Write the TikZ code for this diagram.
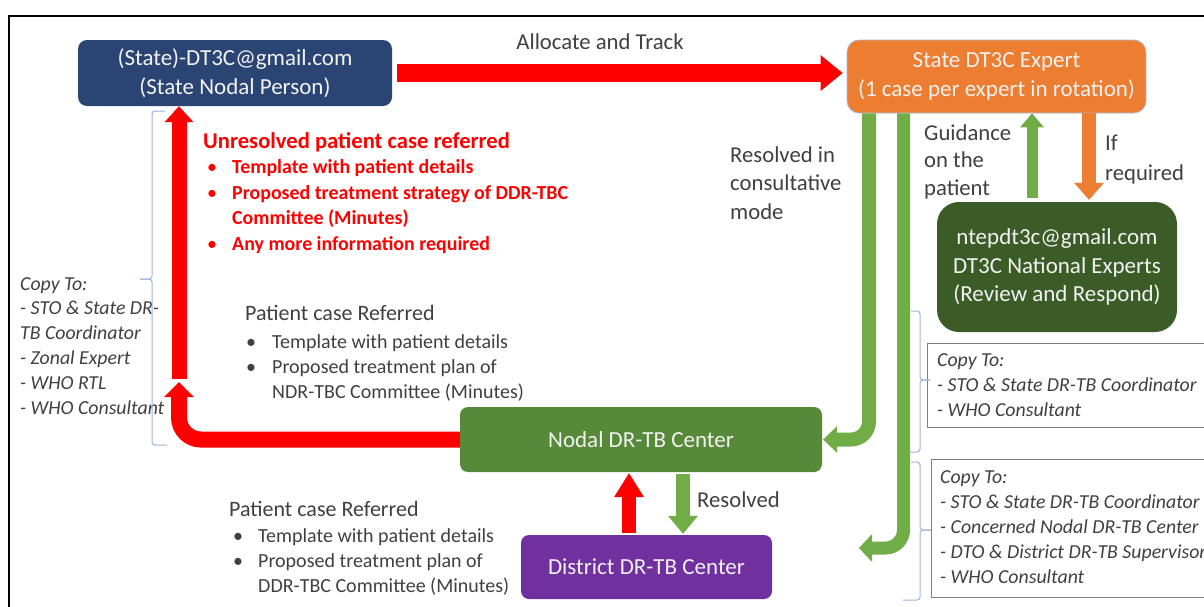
\documentclass[tikz,border=0pt]{standalone}
\usepackage{fontspec}
\setmainfont{Carlito}
\usetikzlibrary{arrows.meta}

\definecolor{navy}{HTML}{2A4574}
\definecolor{expertorange}{HTML}{ED7D31}
\definecolor{natgreen}{HTML}{3B5C26}
\definecolor{nodalgreen}{HTML}{578A38}
\definecolor{distpurple}{HTML}{7030A0}
\definecolor{flowgreen}{HTML}{70AD47}
\definecolor{flowred}{HTML}{FF0000}
\definecolor{ink}{HTML}{404040}
\definecolor{bracecol}{HTML}{9AB3DF}
\definecolor{boxline}{HTML}{808080}
\definecolor{paletext}{HTML}{F2F2F2}
\definecolor{edgeblue}{HTML}{A9BCDD}

% bullet line and its continuation
\newcommand{\bitem}[2]{\makebox[#1][l]{\mdseries\textbullet}#2}
\newcommand{\bcont}[2]{\hspace*{#1}#2}

\begin{document}
\begin{tikzpicture}[x=1pt,y=-1pt,
  mainbox/.style={align=center, text=paletext, inner sep=0pt,
    font=\fontsize{23}{28.5}\selectfont},
  label/.style={align=left, anchor=base west, inner sep=0pt, text=ink,
    font=\fontsize{22.7}{28.5}\selectfont},
  listtitle/.style={anchor=base west, inner sep=0pt, text=ink,
    font=\fontsize{22}{26}\selectfont},
  listbody/.style={align=left, anchor=base west, inner sep=0pt, text=ink,
    font=\fontsize{20}{25}\selectfont},
  copytext/.style={align=left, anchor=base west, inner sep=0pt, text=ink,
    font=\itshape\fontsize{19.8}{24.8}\selectfont},
  copybox/.style={draw=boxline, line width=1.2pt, anchor=north west, inner sep=0pt},
  bracket/.style={draw=bracecol, line width=1pt, rounded corners=3pt},
  redarrow/.style={draw=flowred, line width=#1},
  greenarrow/.style={draw=flowgreen, line width=#1},
]
\useasboundingbox (0,0) rectangle (1204,606);
\clip (0,0) rectangle (1204,606);
\fill[white] (0,0) rectangle (1204,606);

% outer frame (runs past the right and bottom edges)
\draw[black, line width=1.2pt] (9,640) |- (1240,16);

% ---------- boxes ----------
\node[mainbox, fill=navy, rounded corners=9pt,
      minimum width=314pt, minimum height=66pt] (state) at (235,73)
  {(State)-DT3C@gmail.com\\(State Nodal Person)};
\node[mainbox, fill=expertorange, draw=edgeblue, line width=0.8pt, rounded corners=12pt,
      minimum width=299pt, minimum height=73pt] (expert) at (996.5,76.5)
  {State DT3C Expert\\(1 case per expert in rotation)};
\node[mainbox, fill=natgreen, rounded corners=22pt,
      minimum width=240pt, minimum height=130pt] (national) at (1057,267)
  {ntepdt3c@gmail.com\\DT3C National Experts\\(Review and Respond)};
\node[mainbox, fill=nodalgreen, rounded corners=8pt,
      minimum width=362pt, minimum height=65pt] (nodal) at (641,439.5)
  {Nodal DR-TB Center};
\node[mainbox, fill=distpurple, rounded corners=8pt,
      minimum width=251pt, minimum height=64pt] (district) at (646.5,567)
  {District DR-TB Center};

% ---------- copy-to boxes ----------
\node[copybox, minimum width=300pt, minimum height=84pt] (copyA) at (927,343) {};
\node[copybox, minimum width=300pt, minimum height=138pt] (copyB) at (931,459) {};

% multi-line texts are placed by the baseline of their last line
\node[copytext] (copyAtext) at (937,416)
  {Copy To:\\- STO \& State DR-TB Coordinator\\- WHO Consultant};
\node[copytext] (copyBtext) at (940,583)
  {Copy To:\\- STO \& State DR-TB Coordinator\\- Concerned Nodal DR-TB Center\\- DTO \& District DR-TB Supervisor\\- WHO Consultant};
\node[copytext] (copyLtext) at (20,414)
  {Copy To:\\- STO \& State DR-\\TB Coordinator\\- Zonal Expert\\- WHO RTL\\- WHO Consultant};

% ---------- brackets ----------
\draw[bracket] (165,111) -- (152,111) -- (152,279) -- (140,279);
\draw[bracket] (140,279) -- (152,279) -- (152,445) -- (167,445);
\draw[bracket] (911,311) -- (920,311) -- (920,380) -- (930,380);
\draw[bracket] (930,380) -- (920,380) -- (920,452) -- (908,452);
\draw[bracket] (911,462) -- (920,462) -- (920,530) -- (931,530);
\draw[bracket] (931,530) -- (920,530) -- (920,600) -- (903,600);

% ---------- connectors ----------
\coordinate (redjoin) at (179,379);
\coordinate (redtip) at (179,382);
\coordinate (lowtip) at (859,548);

% allocate and track
\draw[redarrow=18pt, -{Triangle[length=22pt,width=36pt,line width=0pt]},
      shorten <=5pt, shorten >=4pt]
  (state.east) -- (state.east -| expert.west);
% nodal centre back to the state nodal person
\draw[redarrow=16pt, rounded corners=22pt,
      -{Triangle[length=15pt,width=30pt,line width=0pt]}]
  (nodal.west) -| (redtip);
\draw[redarrow=15pt, -{Triangle[length=16pt,width=29pt,line width=0pt]}]
  (redjoin) -- (redjoin |- state.south);
% district to nodal and back
\draw[redarrow=14pt, -{Triangle[length=24pt,width=30pt,line width=0pt]},
      shorten <=2pt, shorten >=1pt]
  ([xshift=-17.5pt]district.north) -- ([xshift=-17.5pt]district.north |- nodal.south);
\draw[greenarrow=14pt, -{Triangle[length=18pt,width=30pt,line width=0pt]},
      shorten <=2pt, shorten >=1pt]
  ([xshift=36.5pt]nodal.south -| district.north) -- ([xshift=36.5pt]district.north);
% expert back down to the nodal centre and the district
\draw[greenarrow=14pt, rounded corners=18pt,
      -{Triangle[length=14pt,width=27pt,line width=0pt]}, shorten >=1pt]
  ([xshift=-127.5pt]expert.south) |- (nodal.east);
\draw[greenarrow=13pt, rounded corners=18pt,
      -{Triangle[length=13pt,width=28pt,line width=0pt]}]
  ([xshift=-93pt]expert.south) |- (lowtip);
% expert and national experts
\draw[greenarrow=11pt, -{Triangle[length=14pt,width=24pt,line width=0pt]},
      shorten <=4pt]
  ([xshift=-25pt]national.north) -- ([xshift=-25pt]national.north |- expert.south);
\draw[draw=expertorange, line width=14pt,
      -{Triangle[length=17pt,width=30pt,line width=0pt]}, shorten >=2pt]
  ([xshift=92.5pt]expert.south) -- ([xshift=92.5pt]expert.south |- national.north);

% ---------- labels ----------
\node[label, anchor=center] (alloc) at (600,42) {Allocate and Track};
\node[label] (consult) at (730,219) {Resolved in\\consultative\\mode};
\node[label, font=\fontsize{22.7}{27.5}\selectfont] (guide) at (924,195) {Guidance\\on the\\patient};
\node[label, font=\fontsize{22.7}{30}\selectfont] (ifreq) at (1105,180) {If\\required};
\node[label] (resolved) at (697,507) {Resolved};

% ---------- referral notes ----------
\node[listtitle, text=flowred, font=\bfseries\fontsize{22.6}{26}\selectfont] (redtitle) at (203,148)
  {Unresolved patient case referred};
\node[listbody, text=flowred, font=\bfseries\fontsize{19.9}{25.5}\selectfont] (redlist) at (207,250)
  {\bitem{25pt}{Template with patient details}\\
   \bitem{25pt}{Proposed treatment strategy of DDR-TBC}\\
   \bcont{25pt}{Committee (Minutes)}\\
   \bitem{25pt}{Any more information required}};

\node[listtitle] (nodaltitle) at (245,320) {Patient case Referred};
\node[listbody] (nodallist) at (246,398)
  {\bitem{26pt}{Template with patient details}\\
   \bitem{26pt}{Proposed treatment plan of}\\
   \bcont{26pt}{NDR-TBC Committee (Minutes)}};

\node[listtitle] (disttitle) at (229,516) {Patient case Referred};
\node[listbody] (distlist) at (233,592)
  {\bitem{25pt}{Template with patient details}\\
   \bitem{25pt}{Proposed treatment plan of}\\
   \bcont{25pt}{DDR-TBC Committee (Minutes)}};
\end{tikzpicture}
\end{document}
